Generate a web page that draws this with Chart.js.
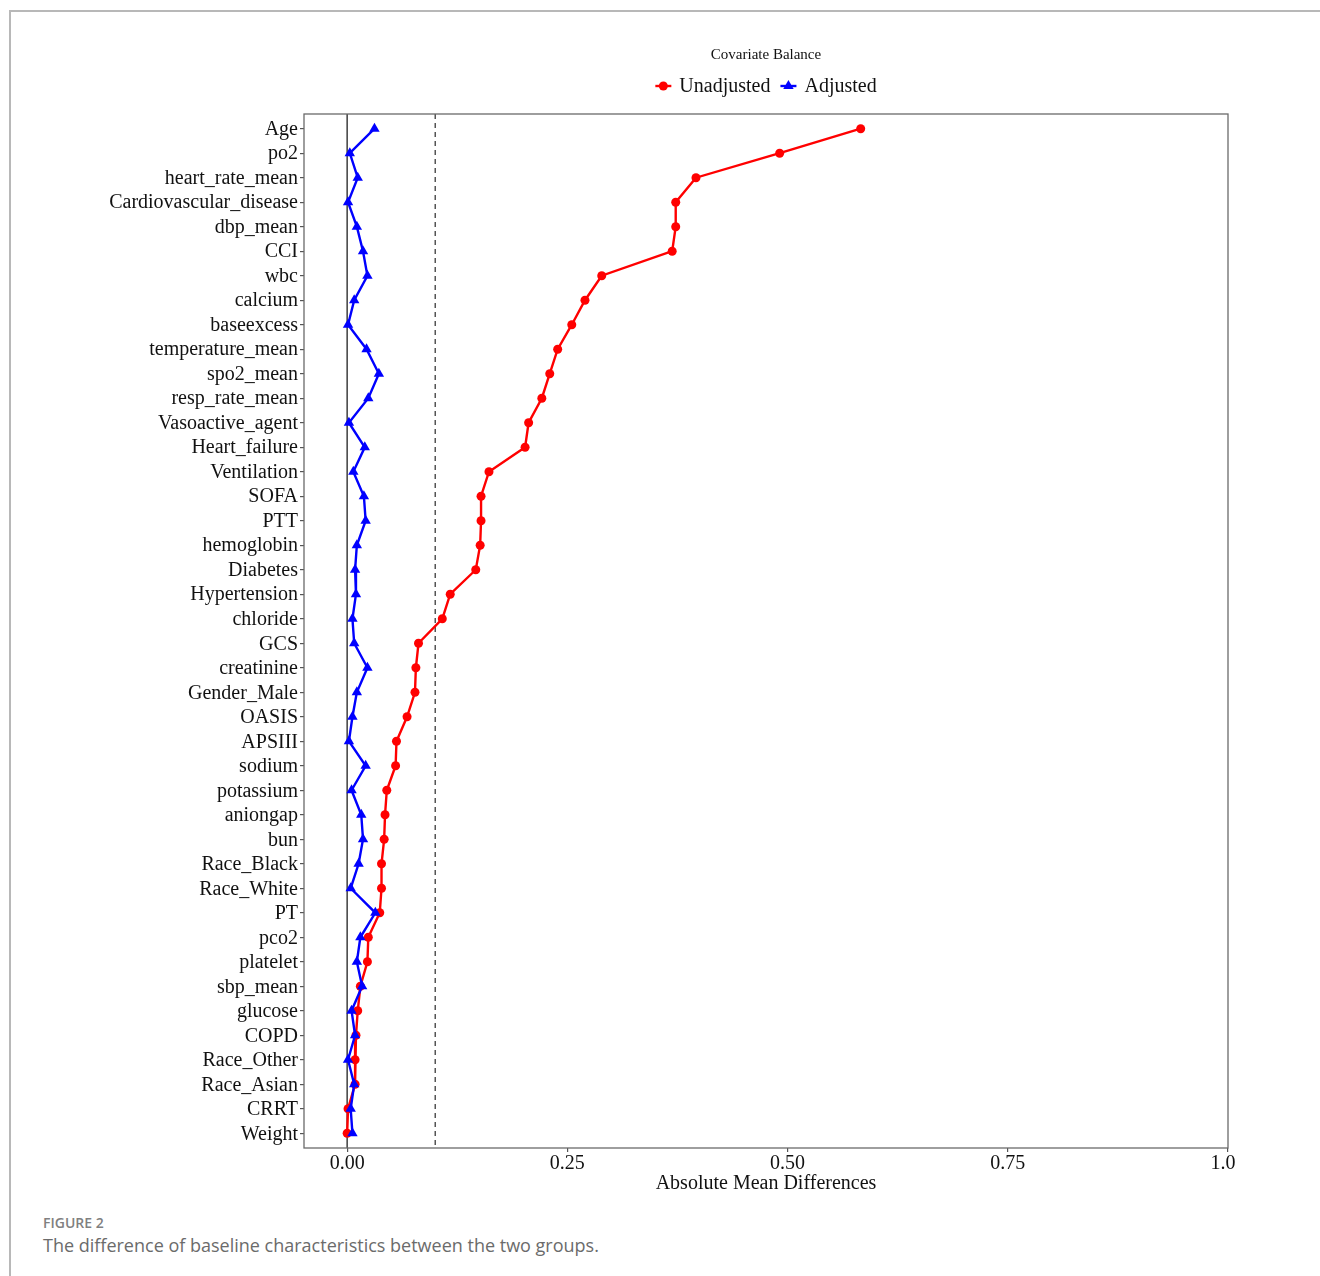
<!DOCTYPE html>
<html>
<head>
<meta charset="utf-8">
<script src="https://cdn.jsdelivr.net/npm/chart.js@4/dist/chart.umd.min.js"></script>
<style>
  html, body { margin: 0; padding: 0; background: #fff; }
  body { width: 1320px; height: 1276px; position: relative; overflow: hidden; }
  #frameTop { position: absolute; left: 9px; top: 10px; width: 1311px; height: 2px; background: #b8b8b8; }
  #frameLeft { position: absolute; left: 9px; top: 10px; width: 2px; height: 1266px; background: #b8b8b8; }
  #plotWrap { position: absolute; left: 0; top: 0; width: 1236px; height: 1200px; overflow: hidden; }
  #plot { position: absolute; left: 0; top: 0; }
  #figLabel { position: absolute; left: 43px; top: 1213px; font-family: "Open Sans", sans-serif; font-weight: 600; font-size: 14px; color: #808080; }
  #figCaption { position: absolute; left: 43px; top: 1233px; font-family: "Open Sans", sans-serif; font-weight: 400; font-size: 18px; color: #6b6b6b; }
</style>
</head>
<body>
<div id="frameTop"></div>
<div id="frameLeft"></div>
<div id="plotWrap"><canvas id="plot" width="1320" height="1200"></canvas></div>
<div id="figLabel">FIGURE 2</div>
<div id="figCaption">The difference of baseline characteristics between the two groups.</div>

<script>
// Covariates, top to bottom
const covariates = [
  "Age", "po2", "heart_rate_mean", "Cardiovascular_disease", "dbp_mean", "CCI",
  "wbc", "calcium", "baseexcess", "temperature_mean", "spo2_mean", "resp_rate_mean",
  "Vasoactive_agent", "Heart_failure", "Ventilation", "SOFA", "PTT", "hemoglobin",
  "Diabetes", "Hypertension", "chloride", "GCS", "creatinine", "Gender_Male",
  "OASIS", "APSIII", "sodium", "potassium", "aniongap", "bun", "Race_Black",
  "Race_White", "PT", "pco2", "platelet", "sbp_mean", "glucose", "COPD",
  "Race_Other", "Race_Asian", "CRRT", "Weight"
];

// Absolute mean differences before weighting
const unadjusted = [
  0.583, 0.491, 0.396, 0.373, 0.373, 0.369,
  0.289, 0.270, 0.255, 0.239, 0.230, 0.221,
  0.206, 0.202, 0.161, 0.152, 0.152, 0.151,
  0.146, 0.117, 0.108, 0.081, 0.078, 0.077,
  0.068, 0.056, 0.055, 0.045, 0.043, 0.042, 0.039,
  0.039, 0.037, 0.024, 0.023, 0.015, 0.012, 0.010,
  0.009, 0.009, 0.001, 0.000
];

// Absolute mean differences after weighting
const adjusted = [
  0.031, 0.003, 0.012, 0.001, 0.011, 0.018,
  0.023, 0.008, 0.001, 0.022, 0.036, 0.024,
  0.002, 0.020, 0.007, 0.019, 0.021, 0.011,
  0.009, 0.010, 0.006, 0.008, 0.023, 0.011,
  0.006, 0.002, 0.021, 0.005, 0.016, 0.018, 0.013,
  0.004, 0.032, 0.015, 0.011, 0.017, 0.005, 0.009,
  0.001, 0.008, 0.004, 0.006
];

const xTickValues = [0, 0.25, 0.5, 0.75, 1.0];
const xTickLabels = ["0.00", "0.25", "0.50", "0.75", "1.00"];
const referenceLine = 0;
const balanceThreshold = 0.1;

const serif = '"Liberation Serif", "Times New Roman", serif';
const RED = '#ff0000';
const BLUE = '#0000ff';

function drawMarker(ctx, style, x, y, r, color) {
  ctx.save();
  ctx.fillStyle = color;
  ctx.beginPath();
  if (style === 'circle') {
    ctx.arc(x, y, r, 0, Math.PI * 2);
  } else {
    ctx.moveTo(x, y - r);
    ctx.lineTo(x + r * Math.sqrt(3) / 2, y + r / 2);
    ctx.lineTo(x - r * Math.sqrt(3) / 2, y + r / 2);
    ctx.closePath();
  }
  ctx.fill();
  ctx.restore();
}

// Reference lines, panel border, title and legend
const panelDecor = {
  id: 'panelDecor',
  beforeDatasetsDraw(chart) {
    const { ctx, chartArea: a, scales: { x } } = chart;
    ctx.save();
    const x0 = x.getPixelForValue(referenceLine);
    ctx.strokeStyle = '#4a4a4a';
    ctx.lineWidth = 1.6;
    ctx.beginPath();
    ctx.moveTo(x0, a.top);
    ctx.lineTo(x0, a.bottom);
    ctx.stroke();
    const x1 = x.getPixelForValue(balanceThreshold);
    ctx.strokeStyle = '#555';
    ctx.lineWidth = 1.5;
    ctx.setLineDash([5, 4]);
    ctx.beginPath();
    ctx.moveTo(x1, a.top);
    ctx.lineTo(x1, a.bottom);
    ctx.stroke();
    ctx.restore();
  },
  afterDraw(chart) {
    const { ctx, chartArea: a } = chart;
    ctx.save();
    ctx.strokeStyle = '#6a6a6a';
    ctx.lineWidth = 1.3;
    ctx.strokeRect(a.left, a.top, a.right - a.left, a.bottom - a.top);

    const cx = (a.left + a.right) / 2;
    ctx.fillStyle = '#111';
    ctx.textAlign = 'center';
    ctx.textBaseline = 'middle';
    ctx.font = '15px ' + serif;
    ctx.fillText('Covariate Balance', cx, 55);

    // legend: line + marker keys
    ctx.font = '20px ' + serif;
    ctx.textAlign = 'left';
    const items = [
      { text: 'Unadjusted', color: RED, style: 'circle', r: 4.5 },
      { text: 'Adjusted', color: BLUE, style: 'triangle', r: 6 }
    ];
    const keyW = 16, gap = 8, itemGap = 10;
    let total = 0;
    items.forEach((it, i) => {
      it.w = ctx.measureText(it.text).width;
      total += keyW + gap + it.w + (i ? itemGap : 0);
    });
    let lx = cx - total / 2;
    const ly = 86;
    items.forEach((it, i) => {
      if (i) lx += itemGap;
      ctx.strokeStyle = it.color;
      ctx.lineWidth = 2.4;
      ctx.beginPath();
      ctx.moveTo(lx, ly);
      ctx.lineTo(lx + keyW, ly);
      ctx.stroke();
      drawMarker(ctx, it.style, lx + keyW / 2, ly, it.r, it.color);
      lx += keyW + gap;
      ctx.fillStyle = '#111';
      ctx.fillText(it.text, lx, ly + 1);
      lx += it.w;
    });
    ctx.restore();
  }
};

const toPoints = vals => vals.map((v, i) => ({ x: v, y: i }));

new Chart(document.getElementById('plot'), {
  type: 'line',
  data: {
    datasets: [
      {
        label: 'Unadjusted',
        data: toPoints(unadjusted),
        borderColor: RED,
        backgroundColor: RED,
        borderWidth: 2.4,
        pointStyle: 'circle',
        pointRadius: 4.5,
        pointBorderWidth: 0,
        tension: 0,
        order: 2
      },
      {
        label: 'Adjusted',
        data: toPoints(adjusted),
        borderColor: BLUE,
        backgroundColor: BLUE,
        borderWidth: 2.4,
        pointStyle: 'triangle',
        pointRadius: 6,
        pointBorderWidth: 0,
        tension: 0,
        order: 1
      }
    ]
  },
  options: {
    responsive: false,
    animation: false,
    layout: { padding: { left: 0, right: 92, top: 114, bottom: 0 } },
    plugins: {
      legend: { display: false },
      title: { display: false },
      tooltip: { enabled: false }
    },
    scales: {
      x: {
        type: 'linear',
        position: 'bottom',
        min: -0.049,
        max: 1.0,
        afterBuildTicks: s => { s.ticks = xTickValues.map(v => ({ value: v })); },
        afterFit: s => { s.height = 52; },
        grid: { display: true, drawOnChartArea: false, drawTicks: true, tickLength: 4, color: '#555', lineWidth: 1.2 },
        border: { display: false },
        ticks: {
          color: '#111',
          font: { family: serif, size: 20 },
          padding: 0,
          maxRotation: 0,
          callback: v => xTickLabels[xTickValues.indexOf(v)]
        },
        title: {
          display: true,
          text: 'Absolute Mean Differences',
          color: '#111',
          font: { family: serif, size: 20 },
          padding: { top: 0, bottom: 4 }
        }
      },
      y: {
        type: 'linear',
        reverse: true,
        min: -0.6,
        max: 41.6,
        afterBuildTicks: s => { s.ticks = covariates.map((_, i) => ({ value: i })); },
        afterFit: s => { s.width = 304; },
        grid: { display: true, drawOnChartArea: false, drawTicks: true, tickLength: 4, color: '#555', lineWidth: 1.2 },
        border: { display: false },
        ticks: {
          autoSkip: false,
          color: '#111',
          font: { family: serif, size: 20 },
          padding: 2,
          labelOffset: 1,
          callback: v => covariates[v]
        }
      }
    }
  },
  plugins: [panelDecor]
});
</script>
</body>
</html>
